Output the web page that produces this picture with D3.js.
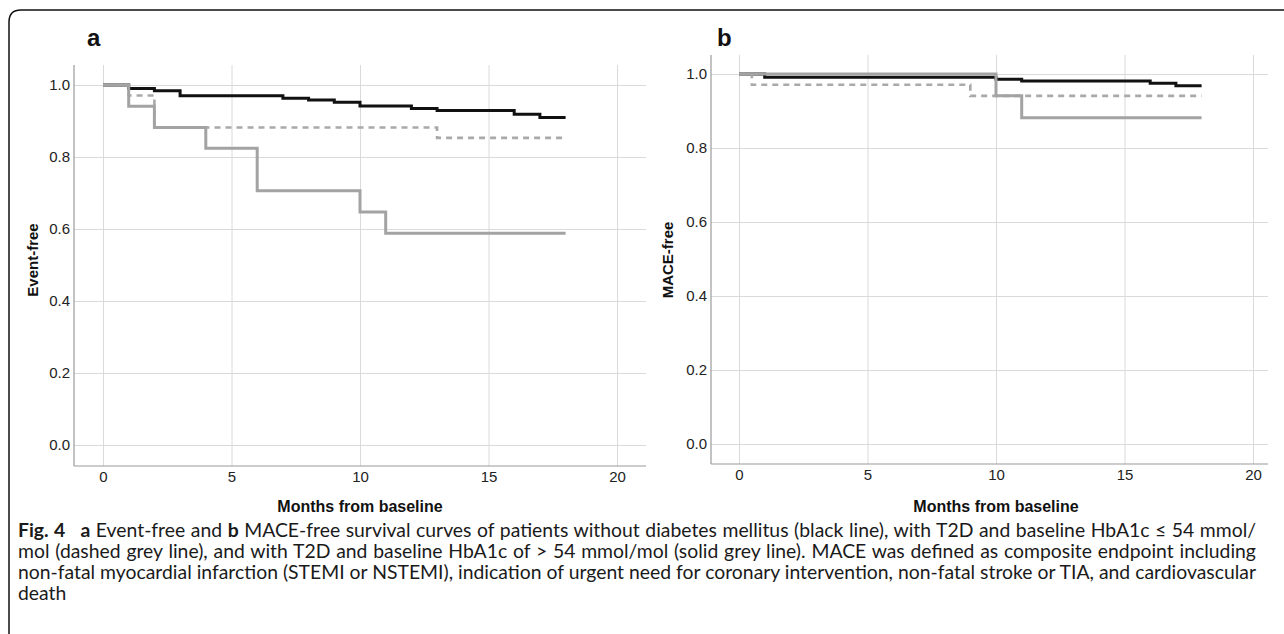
<!DOCTYPE html>
<html>
<head>
<meta charset="utf-8">
<script src="https://cdn.jsdelivr.net/npm/d3@7"></script>
<style>
  html, body { margin: 0; padding: 0; background: #fff; }
  svg { display: block; }
</style>
</head>
<body>
<div id="chart"></div>
<script>
// ticks
const xTicks = [0, 5, 10, 15, 20];
const yTicks = [0, 0.2, 0.4, 0.6, 0.8, 1.0];

// panel a: event-free survival (months, survival)
const aNoDmMonths = [0, 1, 2, 3, 7, 8, 9, 10, 12, 13, 16, 17, 18];
const aNoDmSurv   = [1.0, 0.99, 0.984, 0.970, 0.963, 0.958, 0.952, 0.942, 0.935, 0.929, 0.919, 0.910, 0.910];
const aLowMonths  = [0, 1, 2, 13, 18];
const aLowSurv    = [1.0, 0.971, 0.882, 0.853, 0.853];
const aHighMonths = [0, 1, 2, 4, 6, 10, 11, 18];
const aHighSurv   = [1.0, 0.941, 0.882, 0.824, 0.706, 0.647, 0.588, 0.588];

// panel b: MACE-free survival
const bNoDmMonths = [0, 1, 10, 11, 16, 17, 18];
const bNoDmSurv   = [1.0, 0.991, 0.986, 0.981, 0.975, 0.968, 0.968];
const bLowMonths  = [0, 0.5, 9, 18];
const bLowSurv    = [1.0, 0.971, 0.941, 0.941];
const bHighMonths = [0, 10, 11, 18];
const bHighSurv   = [1.0, 0.941, 0.882, 0.882];

const W = 1284, H = 634;
const svg = d3.select('#chart').append('svg')
    .attr('width', W)
    .attr('height', H);

// frame with rounded top-left corner
const r = 12;
svg.append('path')
    .attr('d', `M9,${H} L9,${10 + r} Q9,10 ${9 + r},10 L${W},10`)
    .attr('fill', 'none')
    .attr('stroke', '#111')
    .attr('stroke-width', 1.5);

const zip = (ms, ss) => ms.map((m, i) => ({ m: m, s: ss[i] }));

function drawPanel(p) {
    const x = d3.scaleLinear().domain([0, 20]).range([p.x0, p.x20]);
    const y = d3.scaleLinear().domain([0, 1]).range([p.y0, p.y1]);
    const g = svg.append('g');

    // vertical grid + x tick labels
    const xa = g.append('g')
        .attr('transform', `translate(0,${p.bottom})`)
        .call(d3.axisBottom(x).tickValues(xTicks).tickSizeInner(-(p.bottom - p.top)).tickSizeOuter(0).tickPadding(5));
    // horizontal grid + y tick labels
    const ya = g.append('g')
        .attr('transform', `translate(${p.left},0)`)
        .call(d3.axisLeft(y).tickValues(yTicks).tickFormat(d3.format('.1f'))
            .tickSizeInner(-(p.right - p.left)).tickSizeOuter(0).tickPadding(4));

    [xa, ya].forEach(a => {
        a.select('.domain').remove();
        a.selectAll('.tick line').attr('stroke', '#dadada').attr('stroke-width', 1);
        a.selectAll('.tick text')
            .attr('fill', '#222')
            .style('font-family', '"Liberation Sans", Arial, sans-serif')
            .style('font-size', '15px');
    });

    // axis lines
    g.append('line')
        .attr('x1', p.left).attr('x2', p.left)
        .attr('y1', p.top).attr('y2', p.bottom)
        .attr('stroke', '#9a9a9a').attr('stroke-width', 1.2);
    g.append('line')
        .attr('x1', p.left).attr('x2', p.right)
        .attr('y1', p.bottom).attr('y2', p.bottom)
        .attr('stroke', '#9a9a9a').attr('stroke-width', 1.2);

    const line = d3.line()
        .x(d => x(d.m))
        .y(d => y(d.s))
        .curve(d3.curveStepAfter);

    // black first, then dashed grey, solid grey on top
    g.append('path').datum(p.noDm)
        .attr('d', line).attr('fill', 'none')
        .attr('stroke', '#111').attr('stroke-width', 3);
    g.append('path').datum(p.low)
        .attr('d', line).attr('fill', 'none')
        .attr('stroke', '#a9a9a9').attr('stroke-width', 2.6)
        .attr('stroke-dasharray', '6,5');
    g.append('path').datum(p.high)
        .attr('d', line).attr('fill', 'none')
        .attr('stroke', '#a3a3a3').attr('stroke-width', 3);

    // titles
    g.append('text')
        .attr('x', (p.x0 + p.x20) / 2).attr('y', 512)
        .attr('text-anchor', 'middle')
        .style('font-family', '"Liberation Sans", Arial, sans-serif')
        .style('font-size', '16px').style('font-weight', 'bold')
        .attr('fill', '#111')
        .text('Months from baseline');
    g.append('text')
        .attr('transform', `translate(${p.yTitleX},260) rotate(-90)`)
        .attr('text-anchor', 'middle')
        .style('font-family', '"Liberation Sans", Arial, sans-serif')
        .style('font-size', '15px').style('font-weight', 'bold')
        .attr('fill', '#111')
        .text(p.yTitle);
    g.append('text')
        .attr('x', p.letterX).attr('y', 46)
        .style('font-family', '"Liberation Sans", Arial, sans-serif')
        .style('font-size', '24px').style('font-weight', 'bold')
        .attr('fill', '#111')
        .text(p.letter);
}

drawPanel({
    left: 74, right: 646, top: 65, bottom: 466,
    x0: 103, x20: 617, y1: 85, y0: 445,
    yTitle: 'Event-free', yTitleX: 38, letter: 'a', letterX: 87,
    noDm: zip(aNoDmMonths, aNoDmSurv),
    low: zip(aLowMonths, aLowSurv),
    high: zip(aHighMonths, aHighSurv)
});
drawPanel({
    left: 711, right: 1268, top: 55, bottom: 464,
    x0: 739, x20: 1253, y1: 74, y0: 444,
    yTitle: 'MACE-free', yTitleX: 673, letter: 'b', letterX: 717,
    noDm: zip(bNoDmMonths, bNoDmSurv),
    low: zip(bLowMonths, bLowSurv),
    high: zip(bHighMonths, bHighSurv)
});

// caption, justified like the printed figure legend
const captionLines = [
    [['Fig. 4', true], ['\u2002 ', false], ['a', true], [' Event-free and ', false], ['b', true],
     [' MACE-free survival curves of patients without diabetes mellitus (black line), with T2D and baseline HbA1c \u2264 54 mmol/', false]],
    [['mol (dashed grey line), and with T2D and baseline HbA1c of > 54 mmol/mol (solid grey line). MACE was defined as composite endpoint including', false]],
    [['non-fatal myocardial infarction (STEMI or NSTEMI), indication of urgent need for coronary intervention, non-fatal stroke or TIA, and cardiovascular', false]],
    [['death', false]]
];
const capY = [537, 558, 579, 600];
const capWidth = 1238;
const cap = svg.append('g')
    .style('font-family', 'Lato, "Open Sans", sans-serif')
    .style('font-size', '16px')
    .attr('fill', '#1a1a1a');
const capTexts = captionLines.map((parts, i) => {
    const t = cap.append('text').attr('x', 18).attr('y', capY[i]);
    parts.forEach(([s, b]) => t.append('tspan').style('font-weight', b ? 'bold' : 'normal').text(s));
    return t;
});
// size so the longest full line fits, then justify the full lines
const widest = d3.max(capTexts.slice(0, 3), t => t.node().getComputedTextLength());
cap.style('font-size', (16 * capWidth / widest).toFixed(2) + 'px');
capTexts.slice(0, 3).forEach((t, i) => {
    const natural = t.node().getComputedTextLength();
    const spaces = captionLines[i].map(p => p[0]).join('').split(' ').length - 1;
    t.style('word-spacing', ((capWidth - natural) / spaces).toFixed(2) + 'px');
});
</script>
</body>
</html>
